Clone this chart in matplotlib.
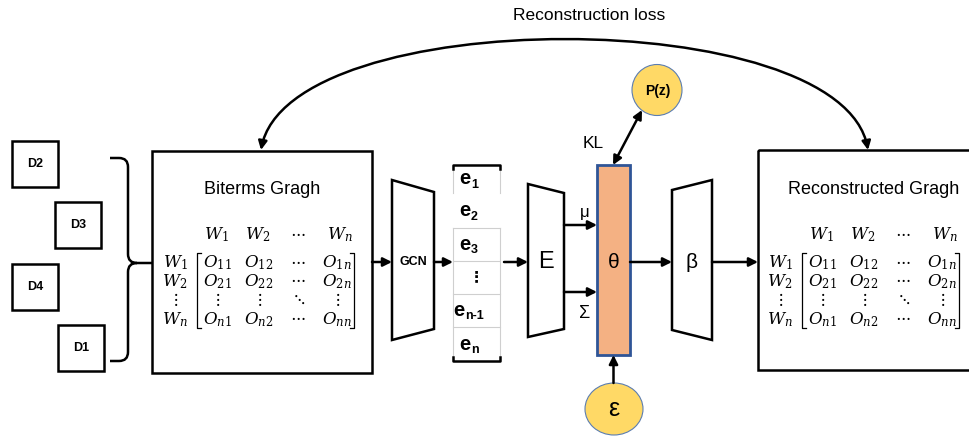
import matplotlib
matplotlib.use('Agg')
import matplotlib.pyplot as plt
from matplotlib import patches
from matplotlib.path import Path

plt.rcParams['font.family'] = ['Liberation Sans', 'DejaVu Sans']

# labels of the diagram
doc_labels = ['D2', 'D3', 'D4', 'D1']
embed_subs = ['1', '2', '3', None, 'n-1', 'n']
col_heads = [r'$W_1$', r'$W_2$', r'$\cdots$', r'$W_n$']
row_heads = [r'$W_1$', r'$W_2$', r'$\vdots$', r'$W_n$']
cells = [[r'$O_{11}$', r'$O_{12}$', r'$\cdots$', r'$O_{1n}$'],
         [r'$O_{21}$', r'$O_{22}$', r'$\cdots$', r'$O_{2n}$'],
         [r'$\vdots$', r'$\vdots$', r'$\ddots$', r'$\vdots$'],
         [r'$O_{n1}$', r'$O_{n2}$', r'$\cdots$', r'$O_{nn}$']]

fig = plt.figure(figsize=(9.7, 4.37), dpi=100)
ax = fig.add_axes([0, 0, 1, 1])
ax.set_xlim(0, 970)
ax.set_ylim(437, 0)
ax.axis('off')

LW = 1.8
MFS = 12  # matrix font size


def arrow(x0, y0, x1, y1, style='-|>'):
    ax.annotate('', xy=(x1, y1), xytext=(x0, y0),
                arrowprops=dict(arrowstyle=style, lw=LW, color='black',
                                mutation_scale=13, shrinkA=0, shrinkB=0))


def box(x, y, w, h, lw=LW):
    ax.add_patch(patches.Rectangle((x, y), w, h, fill=False, lw=lw, ec='black'))


def trapezoid(pts, label, size, weight='normal'):
    ax.add_patch(patches.Polygon(pts, closed=True, fill=False, lw=LW, ec='black'))
    cx = sum(p[0] for p in pts) / 4
    ax.text(cx, 262, label, fontsize=size, fontweight=weight, ha='center', va='center')


def mtext(x, y, s):
    if s == r'$\cdots$':
        y -= 3  # dots sit on the math axis, not the box centre
    ax.text(x, y, s, fontsize=MFS, ha='center', va='center', math_fontfamily='dejavuserif')


def matrix(dx):
    # layout of the biterms matrix, shifted by dx for the reconstructed one
    xh = [216, 258, 298, 340]
    xc = [217, 259, 298, 337]
    xr = 175
    yh = 235
    yr = [263, 282, 299, 320]
    bl, br, bt, bb = 197, 354, 253, 328
    for x, s in zip(xh, col_heads):
        mtext(x + dx, yh, s)
    for y, s in zip(yr, row_heads):
        mtext(xr + dx, y, s)
    for y, row in zip(yr, cells):
        for x, s in zip(xc, row):
            mtext(x + dx, y, s)
    ax.plot([bl + dx + 4, bl + dx, bl + dx, bl + dx + 4], [bt, bt, bb, bb], color='black', lw=0.9)
    ax.plot([br + dx - 4, br + dx, br + dx, br + dx - 4], [bt, bt, bb, bb], color='black', lw=0.9)


# documents
doc_pos = [(12, 141), (55, 202), (12, 264), (58, 325)]
for (x, y), lab in zip(doc_pos, doc_labels):
    box(x, y, 46, 46)
    ax.text(x + 23, y + 23, lab, fontsize=9, fontweight='bold', ha='center', va='center')

# brace
verts = [(110, 158), (119, 158), (128, 158), (128, 167), (128, 254), (128, 263), (137, 263),
         (152, 263), (137, 263), (128, 263), (128, 272), (128, 352), (128, 361), (119, 361),
         (110, 361)]
codes = [Path.MOVETO, Path.LINETO, Path.CURVE3, Path.CURVE3, Path.LINETO, Path.CURVE3, Path.CURVE3,
         Path.LINETO, Path.MOVETO, Path.CURVE3, Path.CURVE3, Path.LINETO, Path.CURVE3, Path.CURVE3,
         Path.LINETO]
ax.add_patch(patches.PathPatch(Path(verts, codes), fill=False, lw=LW))

# biterms graph
box(152, 151, 220, 222)
ax.text(262, 189, 'Biterms Gragh', fontsize=13, ha='center', va='center')
matrix(0)

# reconstructed graph (runs off the right edge)
box(758, 150, 240, 220)
ax.text(874, 190, 'Reconstructed Gragh', fontsize=13, ha='center', va='center')
matrix(605)

# encoder / decoder blocks
trapezoid([(392, 180), (434, 192), (434, 329), (392, 340)], 'GCN', 9, 'bold')
trapezoid([(528, 184), (564, 193), (564, 329), (528, 337)], 'E', 17)
trapezoid([(672, 190), (712, 180), (712, 340), (672, 330)], 'β', 15)

# embedding column
ex0, ex1 = 453, 500
for a, b in [(165, 193), (228, 361)]:
    ax.plot([ex0, ex0], [a, b], color='#cfcfcf', lw=0.8)
    ax.plot([ex1, ex1], [a, b], color='#cfcfcf', lw=0.8)
for y in [228, 261, 294, 327]:
    ax.plot([ex0, ex1], [y, y], color='#cfcfcf', lw=0.8)
ax.plot([ex0, ex0, ex1, ex1], [169, 165, 165, 169], color='black', lw=LW)
ax.plot([ex0, ex0, ex1, ex1], [357, 361, 361, 357], color='black', lw=LW)
embed_y = [181, 213, 246, 277, 312, 346]
for y, sub in zip(embed_y, embed_subs):
    if sub is None:
        ax.text(476, y, '⋮', fontsize=11, fontweight='bold', ha='center', va='center',
                family=['DejaVu Sans'])
        continue
    off = 6 if len(sub) == 1 else 12
    ax.text(476 - off + 1, y - 2, 'e', fontsize=14.5, fontweight='bold', ha='right', va='center')
    ax.text(476 - off + 1, y + 4, sub, fontsize=9, fontweight='bold', ha='left', va='center')

# latent theta
ax.add_patch(patches.Rectangle((597, 165), 33, 190, fc='#F4B183', ec='#2F5597', lw=2))
ax.text(613.5, 262, 'θ', fontsize=15, ha='center', va='center')

# prior and noise
ax.add_patch(patches.Ellipse((657, 90), 50, 51, fc='#FFD966', ec='#5B7DB1', lw=0.8))
ax.text(658, 91, 'P(z)', fontsize=10, fontweight='bold', ha='center', va='center')
ax.add_patch(patches.Ellipse((614, 409), 58, 52, fc='#FFD966', ec='#5B7DB1', lw=0.8))
ax.text(614, 409, 'ε', fontsize=18, ha='center', va='center')

# arrows
arrow(372, 262, 392, 262)
arrow(434, 262, 453, 262)
arrow(504, 262, 528, 262)
arrow(564, 225, 597, 225)
arrow(564, 292, 597, 292)
arrow(630, 262, 672, 262)
arrow(712, 262, 758, 262)
arrow(613.5, 383, 613.5, 355)
arrow(613, 165, 642, 110, style='<|-|>')

ax.text(585, 212, 'μ', fontsize=12, ha='center', va='center')
ax.text(585, 313, 'Σ', fontsize=13, ha='center', va='center')
ax.text(593, 143, 'KL', fontsize=12.5, ha='center', va='center')

# reconstruction loss arc
arc = Path([(261, 150), (288, 3), (842, 3), (868, 150)],
           [Path.MOVETO, Path.CURVE4, Path.CURVE4, Path.CURVE4])
ax.add_patch(patches.FancyArrowPatch(path=arc, arrowstyle='<|-|>', mutation_scale=13,
                                     lw=LW, color='black'))
ax.text(589, 16, 'Reconstruction loss', fontsize=12.5, ha='center', va='center')

fig.savefig('out.png', dpi=100, facecolor='white')
